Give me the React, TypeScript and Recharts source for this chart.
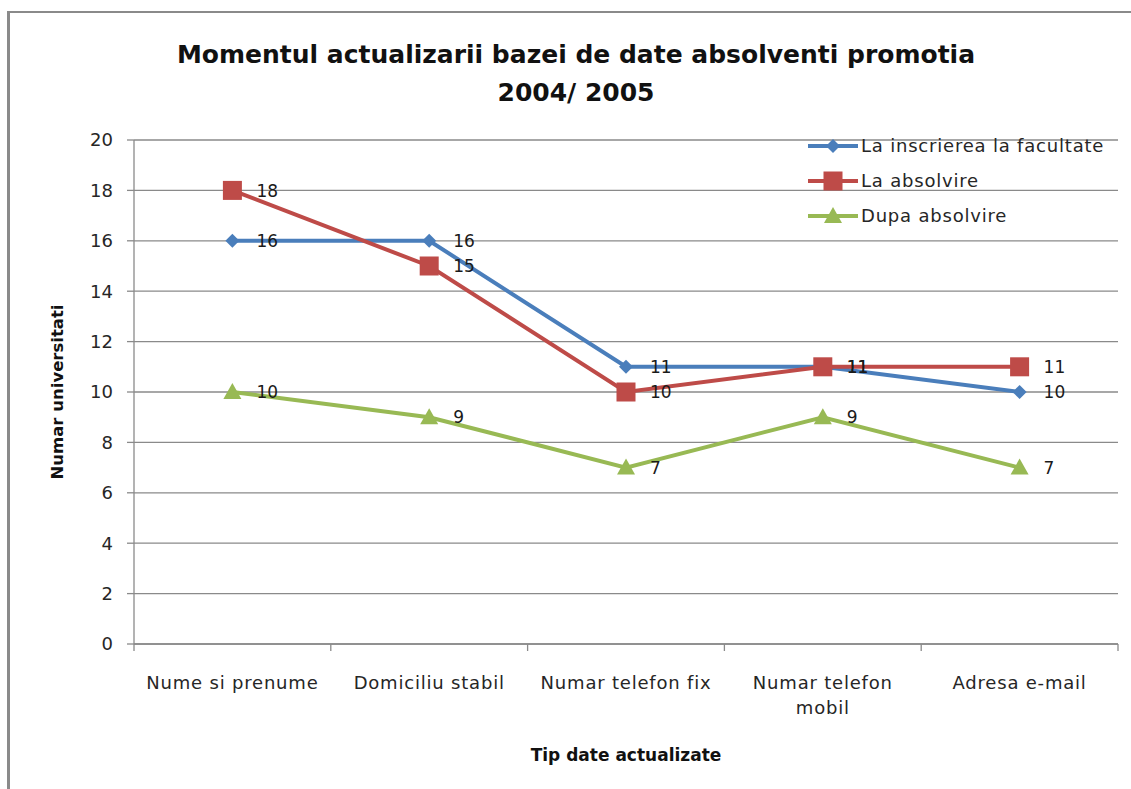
import { LineChart, Line, XAxis, YAxis, CartesianGrid, LabelList } from "recharts";

const CATEGORIES = ["Nume si prenume", "Domiciliu stabil", "Numar telefon fix", "Numar telefon mobil", "Adresa e-mail"];
const INSCRIERE = [16, 16, 11, 11, 10];
const ABSOLVIRE = [18, 15, 10, 11, 11];
const DUPA = [10, 9, 7, 9, 7];
const Y_TICKS = [0, 2, 4, 6, 8, 10, 12, 14, 16, 18, 20];

const SERIES = [
  { key: "inscriere", label: "La inscrierea la facultate", color: "#4A7EBB", shape: "diamond" },
  { key: "absolvire", label: "La absolvire", color: "#BE4B48", shape: "square" },
  { key: "dupa", label: "Dupa absolvire", color: "#98B954", shape: "triangle" },
];

// each category sits in the middle of its slot on a 0..n number axis
const data = CATEGORIES.map((name, i) => ({
  name,
  pos: i + 0.5,
  inscriere: INSCRIERE[i],
  absolvire: ABSOLVIRE[i],
  dupa: DUPA[i],
}));

const FONT = "'DejaVu Sans', sans-serif";
const AXIS = "#8a8a8a";
const MAX_CHARS = 17;

function Marker({ cx, cy, shape, color }: { cx: number; cy: number; shape: string; color: string }) {
  if (cx == null || cy == null) return null;
  if (shape === "diamond") {
    const r = 7;
    return <polygon points={`${cx},${cy - r} ${cx + r},${cy} ${cx},${cy + r} ${cx - r},${cy}`} fill={color} />;
  }
  if (shape === "square") {
    const s = 9.5;
    return <rect x={cx - s} y={cy - s} width={s * 2} height={s * 2} fill={color} />;
  }
  return <polygon points={`${cx},${cy - 9} ${cx + 9},${cy + 7} ${cx - 9},${cy + 7}`} fill={color} />;
}

const dotFor = (shape: string, color: string) => (p: any) => (
  <Marker key={`${p.index}`} cx={p.cx} cy={p.cy} shape={shape} color={color} />
);

const renderValue = (p: any) => (
  <text x={p.x + 24} y={p.y} dy="0.36em" fontSize={17} fontFamily={FONT} fill="#1a1a1a">
    {p.value}
  </text>
);

// slot boundary marks below the axis line
const frameTick = (p: any) => (
  <line x1={p.x} x2={p.x} y1={p.y - 8} y2={p.y - 1} stroke={AXIS} strokeWidth={1.3} />
);

function wrap(label: string) {
  const lines: string[] = [];
  let cur = "";
  for (const w of label.split(" ")) {
    const next = cur ? cur + " " + w : w;
    if (next.length > MAX_CHARS && cur) {
      lines.push(cur);
      cur = w;
    } else cur = next;
  }
  lines.push(cur);
  return lines;
}

const catTick = (p: any) => {
  const idx = data.findIndex((d) => d.pos === p.payload.value);
  const lines = idx >= 0 ? wrap(CATEGORIES[idx]) : [];
  return (
    <text
      x={p.x}
      y={p.y + 16}
      textAnchor="middle"
      fontSize={18}
      fontFamily={FONT}
      fill="#262626"
      style={{ letterSpacing: 0.8 }}
    >
      {lines.map((l, i) => (
        <tspan key={i} x={p.x} dy={i === 0 ? "0.71em" : 25}>
          {l}
        </tspan>
      ))}
    </text>
  );
};

const LegendBox = () => (
  <div style={{ fontFamily: FONT, fontSize: 18, letterSpacing: 0.8, color: "#262626" }}>
    {SERIES.map((s) => (
      <div key={s.key} style={{ display: "flex", alignItems: "center", height: 35 }}>
        <svg width={52} height={20}>
          <line x1={0} y1={10} x2={50} y2={10} stroke={s.color} strokeWidth={4} />
          <Marker cx={25} cy={10} shape={s.shape} color={s.color} />
        </svg>
        <span style={{ marginLeft: 1, whiteSpace: "nowrap" }}>{s.label}</span>
      </div>
    ))}
  </div>
);

export default function App() {
  return (
    <div style={{ position: "absolute", left: 0, top: 0, width: 1131, height: 789, background: "#fff", overflow: "hidden" }}>
      <div style={{ position: "absolute", left: 7, top: 11, width: 1140, height: 800, borderLeft: "3px solid #8a8a8a", borderTop: "2px solid #8a8a8a" }} />
      <div
        style={{
          position: "absolute",
          left: 0,
          width: 1152,
          top: 36,
          textAlign: "center",
          fontFamily: FONT,
          fontWeight: "bold",
          fontSize: 25,
          lineHeight: "38px",
          color: "#111",
        }}
      >
        Momentul actualizarii bazei de date absolventi promotia
        <br />
        2004/ 2005
      </div>
      <div
        style={{
          position: "absolute",
          left: 57,
          top: 392,
          transform: "translate(-50%, -50%) rotate(-90deg)",
          whiteSpace: "nowrap",
          fontFamily: FONT,
          fontWeight: "bold",
          fontSize: 16.5,
          color: "#111",
        }}
      >
        Numar universitati
      </div>
      <div
        style={{
          position: "absolute",
          left: 626,
          top: 755,
          transform: "translate(-50%, -50%)",
          whiteSpace: "nowrap",
          fontFamily: FONT,
          fontWeight: "bold",
          fontSize: 17,
          color: "#111",
        }}
      >
        Tip date actualizate
      </div>
      <div style={{ position: "absolute", left: 0, top: 0 }}>
        <LineChart width={1131} height={789} data={data} margin={{ top: 140, right: 13, bottom: 77, left: 74 }}>
          <CartesianGrid horizontal vertical={false} stroke={AXIS} strokeWidth={1.3} />
          <XAxis
            xAxisId="frame"
            type="number"
            dataKey="pos"
            domain={[0, CATEGORIES.length]}
            ticks={CATEGORIES.map((_, i) => i).concat(CATEGORIES.length)}
            interval={0}
            tickLine={false}
            tickSize={8}
            tickMargin={0}
            tick={frameTick}
            stroke={AXIS}
            strokeWidth={1.3}
            height={8}
          />
          <XAxis
            xAxisId="lab"
            type="number"
            dataKey="pos"
            domain={[0, CATEGORIES.length]}
            ticks={data.map((d) => d.pos)}
            interval={0}
            axisLine={false}
            tickLine={false}
            tick={catTick}
            height={60}
          />
          <YAxis
            domain={[0, 20]}
            ticks={Y_TICKS}
            interval={0}
            width={60}
            tickSize={7}
            tickMargin={14}
            stroke={AXIS}
            strokeWidth={1.3}
            tick={{ fontSize: 18, fontFamily: FONT, fill: "#262626" }}
          />
          {SERIES.map((s) => (
            <Line
              key={s.key}
              xAxisId="frame"
              dataKey={s.key}
              name={s.label}
              stroke={s.color}
              strokeWidth={4}
              type="linear"
              dot={dotFor(s.shape, s.color)}
              activeDot={false}
              isAnimationActive={false}
            >
              <LabelList dataKey={s.key} content={renderValue} />
            </Line>
          ))}
        </LineChart>
      </div>
      <div style={{ position: "absolute", left: 808, top: 128 }}>
        <LegendBox />
      </div>
    </div>
  );
}
